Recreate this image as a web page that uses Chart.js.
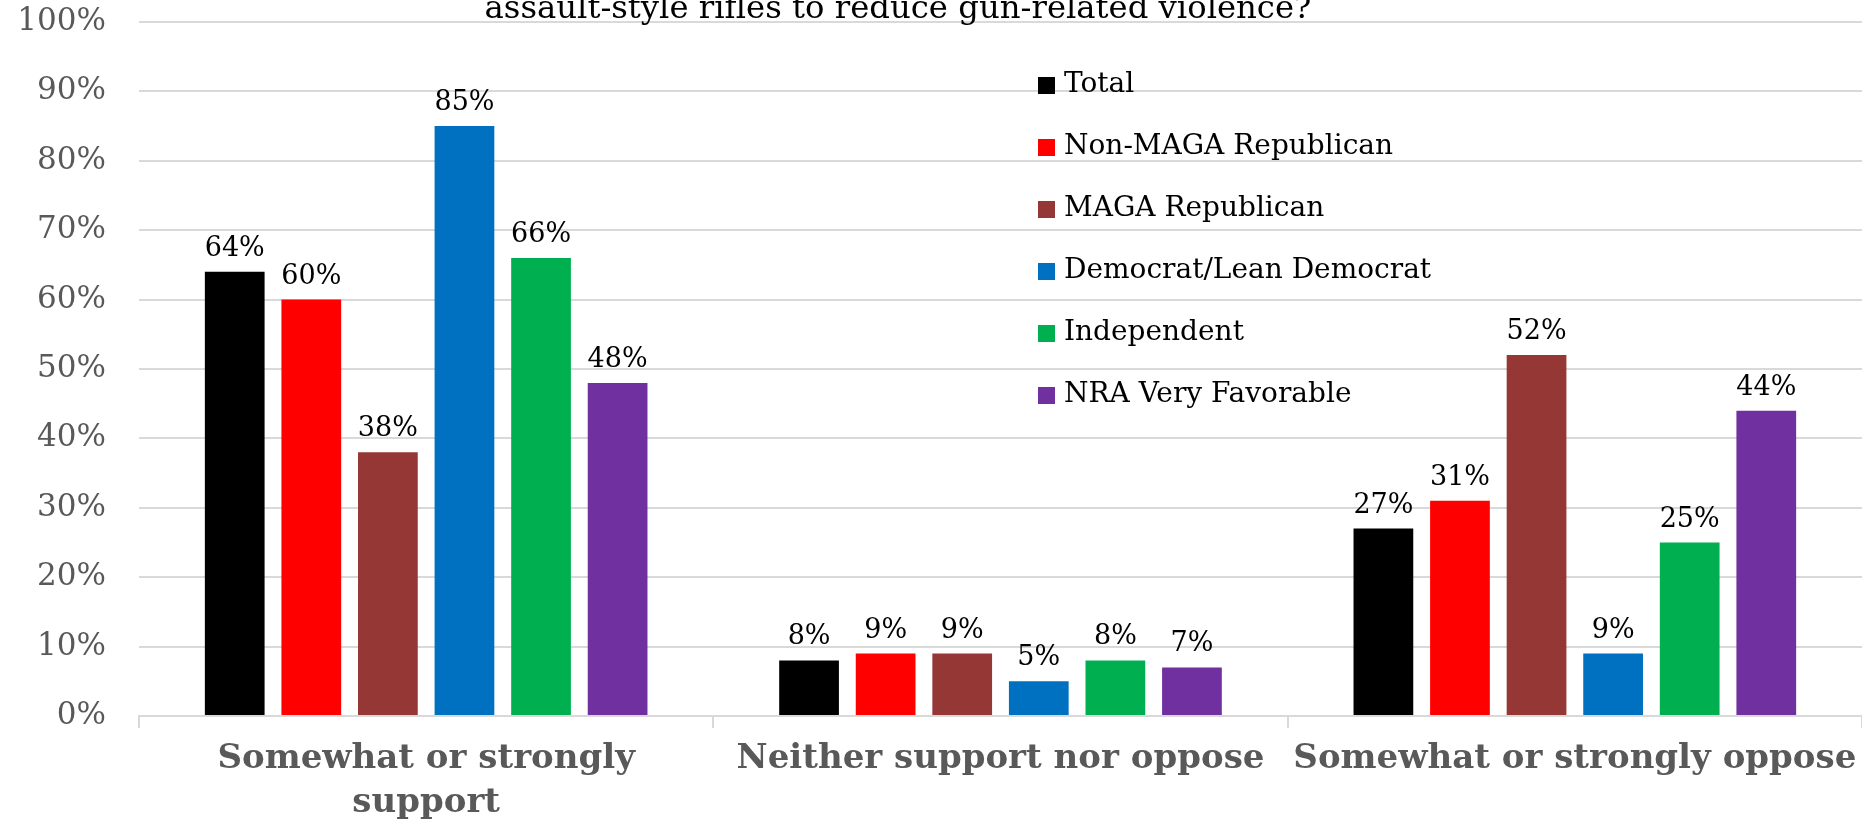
<!DOCTYPE html>
<html>
<head>
<meta charset="utf-8">
<script src="https://cdn.jsdelivr.net/npm/chart.js@4.4.0/dist/chart.umd.min.js"></script>
<style>
    html, body { margin: 0; padding: 0; background: #fff; }
    .wrap { position: relative; width: 1862px; height: 822px; }
    #legend { position: absolute; left: 1038px; top: 66px; font-family: "DejaVu Serif", serif; font-size: 28px; color: #000; }
    #legend .item { height: 62px; display: flex; align-items: flex-start; }
    #legend .box { width: 17px; height: 17px; margin-right: 9px; margin-top: 11px; }
</style>
</head>
<body>
<div class="wrap">
    <canvas id="gunChart" width="1862" height="822"></canvas>
    <div id="legend"></div>
</div>
<script>
// categories and series
var categories = [['Somewhat or strongly', 'support'], 'Neither support nor oppose', 'Somewhat or strongly oppose'];
var seriesNames = ['Total', 'Non-MAGA Republican', 'MAGA Republican', 'Democrat/Lean Democrat', 'Independent', 'NRA Very Favorable'];
var totalVals = [64, 8, 27];
var nonMagaVals = [60, 9, 31];
var magaVals = [38, 9, 52];
var demVals = [85, 5, 9];
var indepVals = [66, 8, 25];
var nraVals = [48, 7, 44];
var colors = ['#000000', '#FF0000', '#953735', '#0070C0', '#00B050', '#7030A0'];
var yTicks = [0, 10, 20, 30, 40, 50, 60, 70, 80, 90, 100];
var titleLine = 'assault-style rifles to reduce gun-related violence?';

var allVals = [totalVals, nonMagaVals, magaVals, demVals, indepVals, nraVals];
var datasets = allVals.map(function (vals, i) {
    return {
        label: seriesNames[i],
        data: vals,
        backgroundColor: colors[i],
        borderWidth: 0,
        categoryPercentage: 0.8,
        barPercentage: 0.78
    };
});

// value labels above each bar
var barLabels = {
    id: 'barLabels',
    afterDatasetsDraw: function (chart) {
        var ctx = chart.ctx;
        ctx.save();
        ctx.font = '27px "DejaVu Serif", serif';
        ctx.fillStyle = '#000';
        ctx.textAlign = 'center';
        ctx.textBaseline = 'alphabetic';
        chart.data.datasets.forEach(function (ds, i) {
            chart.getDatasetMeta(i).data.forEach(function (bar, j) {
                ctx.fillText(ds.data[j] + '%', bar.x, bar.y - 16);
            });
        });
        ctx.restore();
    }
};

// the last line of the title, cut at the top of the image
var clippedTitle = {
    id: 'clippedTitle',
    afterDraw: function (chart) {
        var ctx = chart.ctx;
        ctx.save();
        ctx.font = '32.3px "DejaVu Serif", serif';
        ctx.fillStyle = '#000';
        ctx.textAlign = 'center';
        ctx.textBaseline = 'alphabetic';
        ctx.fillText(titleLine, 898, 18);
        ctx.restore();
    }
};

var chart = new Chart(document.getElementById('gunChart'), {
    type: 'bar',
    data: { labels: categories, datasets: datasets },
    plugins: [barLabels, clippedTitle],
    options: {
        responsive: false,
        animation: false,
        layout: { padding: { top: 22, right: 0, left: 0, bottom: 0 } },
        plugins: {
            legend: { display: false },
            tooltip: { enabled: false }
        },
        scales: {
            x: {
                grid: { offset: true, drawOnChartArea: false, color: '#d9d9d9', lineWidth: 2, tickLength: 12 },
                border: { color: '#d9d9d9', width: 2 },
                ticks: {
                    color: '#595959',
                    font: { family: '"DejaVu Serif", serif', size: 34, weight: 'bold', lineHeight: 1.27 },
                    padding: 10,
                    maxRotation: 0,
                    autoSkip: false
                },
                afterFit: function (scale) {
                    scale.height = 106;
                    scale.paddingLeft = 0;
                    scale.paddingRight = 0;
                }
            },
            y: {
                min: 0,
                max: 100,
                afterBuildTicks: function (scale) {
                    scale.ticks = yTicks.map(function (v) { return { value: v }; });
                },
                grid: { color: '#d9d9d9', lineWidth: 2, drawTicks: false },
                border: { display: false },
                ticks: {
                    color: '#595959',
                    font: { family: '"DejaVu Serif", serif', size: 31 },
                    padding: 33,
                    callback: function (v) { return v + '%'; }
                },
                afterFit: function (scale) {
                    scale.width = 139;
                    scale.paddingTop = 0;
                    scale.paddingBottom = 0;
                }
            }
        }
    }
});

// legend built from the same series names and colours
var legendEl = document.getElementById('legend');
seriesNames.forEach(function (name, i) {
    var item = document.createElement('div');
    item.className = 'item';
    item.innerHTML = '<div class="box" style="background:' + colors[i] + '"></div><div>' + name + '</div>';
    legendEl.appendChild(item);
});
</script>
</body>
</html>
